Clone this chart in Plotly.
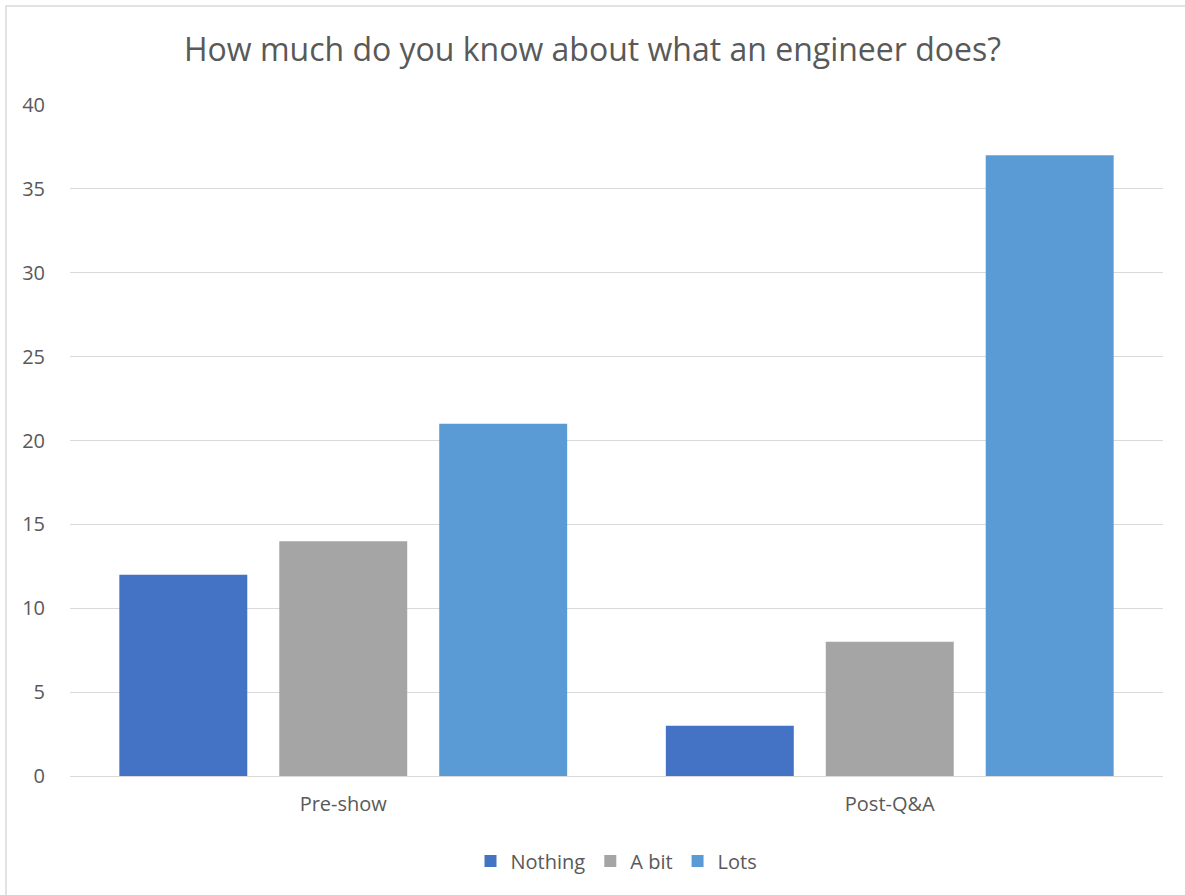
import plotly.graph_objects as go

categories = ["Pre-show", "Post-Q&A"]
series_names = ["Nothing", "A bit", "Lots"]
nothing = [12, 3]
a_bit = [14, 8]
lots = [21, 37]
colors = ["#4472C4", "#A5A5A5", "#5B9BD5"]

W, H = 1185, 895
L, R, T, B = 70, 22, 105, 119
pw, ph = W - L - R, H - T - B

fig = go.Figure()
for name, vals, c in zip(series_names, [nothing, a_bit, lots], colors):
    fig.add_trace(go.Bar(x=categories, y=vals, name=name, marker=dict(color=c, line=dict(width=0))))

fig.update_layout(
    width=W, height=H,
    margin=dict(l=L, r=R, t=T, b=B),
    paper_bgcolor="white", plot_bgcolor="white",
    font=dict(family="Open Sans, Liberation Sans, sans-serif", color="#595959", size=20),
    title=dict(text="How much do you know about what an engineer does?", x=0.5, xanchor="center",
               y=1 - 50 / H, yanchor="middle", font=dict(size=32, color="#595959")),
    barmode="group", bargap=0.122, bargroupgap=0.2,
    legend=dict(orientation="h", x=0.5, xanchor="center", y=-(861 - 776) / ph, yanchor="middle",
                font=dict(size=20, color="#595959"), itemwidth=30),
    xaxis=dict(showgrid=False, showline=True, linecolor="#d9d9d9", linewidth=1,
               ticks="outside", ticklen=10, tickcolor="white",
               tickfont=dict(size=20, color="#595959")),
    yaxis=dict(range=[0, 40], dtick=5, showgrid=True, gridcolor="#d9d9d9", gridwidth=1,
               zeroline=False, ticks="outside", ticklen=20, tickcolor="white",
               tickfont=dict(size=20, color="#595959")),
    shapes=[dict(type="rect", xref="paper", yref="paper",
                 x0=(6 - L) / pw, x1=(W + 5 - L) / pw,
                 y0=-(H + 5 - T - ph) / ph, y1=1 + (T - 6) / ph,
                 line=dict(color="#d9d9d9", width=1.5), fillcolor="rgba(0,0,0,0)", layer="below")],
)

fig.write_html("out.html")
